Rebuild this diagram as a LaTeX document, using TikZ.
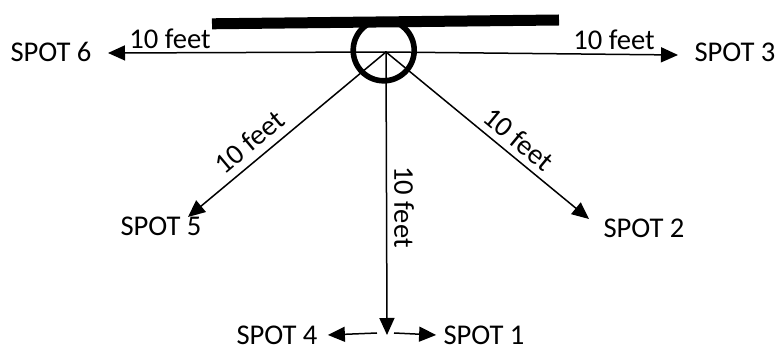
\documentclass[tikz,border=0pt]{standalone}
\usepackage{fontspec}
\setmainfont{Carlito}
\usetikzlibrary{arrows.meta}
\begin{document}
\begin{tikzpicture}[x=0.5pt,y=-0.5pt,line cap=butt,
  lbl/.style={font=\fontsize{14.3}{17}\selectfont,inner sep=0pt},
  arr/.style={line width=0.75pt,-{Triangle[length=8.5pt,width=7.5pt]}}]
\useasboundingbox (0,0) rectangle (777,347);
% pole and bar
\draw[line width=2.8pt] (383.7,50.3) circle[radius=30.5];
\draw[line width=5.5pt] (212,23.8) -- (559,20);
% centre and arrow tips
\coordinate (c) at (386,52);
\coordinate (t6) at (108,53);
\coordinate (t3) at (678,55);
\coordinate (t5) at (188,217);
\coordinate (t2) at (589,219);
\coordinate (t4) at (387,335);
\coordinate (l4) at (377,333);
\coordinate (l1) at (394,333);
% spots
\node[lbl] (s6) at (51,52) {SPOT 6};
\node[lbl] (s3) at (735,52) {SPOT 3};
\node[lbl] (s5) at (161,226) {SPOT 5};
\node[lbl] (s2) at (644,228) {SPOT 2};
\node[lbl] (s4) at (277,335) {SPOT 4};
\node[lbl] (s1) at (484,335) {SPOT 1};
% arrows out of the centre
\draw[arr] (c) -- (t6);
\draw[arr] (c) -- (t3);
\draw[arr] (c) -- (t5);
\draw[arr] (c) -- (t2);
\draw[arr] (c) -- (t4);
\draw[arr] (l4) -- ([xshift=5pt]s4.east);
\draw[arr] (l1) -- ([xshift=-3.5pt]s1.west);
% distances
\node[lbl] (f6) at (170,39) {10 feet};
\node[lbl] (f3) at (614,40) {10 feet};
\node[lbl,rotate=40] (f5) at (249,142) {10 feet};
\node[lbl,rotate=-39.6] (f2) at (519,139) {10 feet};
\node[lbl,rotate=-90] (f4) at (404,207) {10 feet};
\end{tikzpicture}
\end{document}
